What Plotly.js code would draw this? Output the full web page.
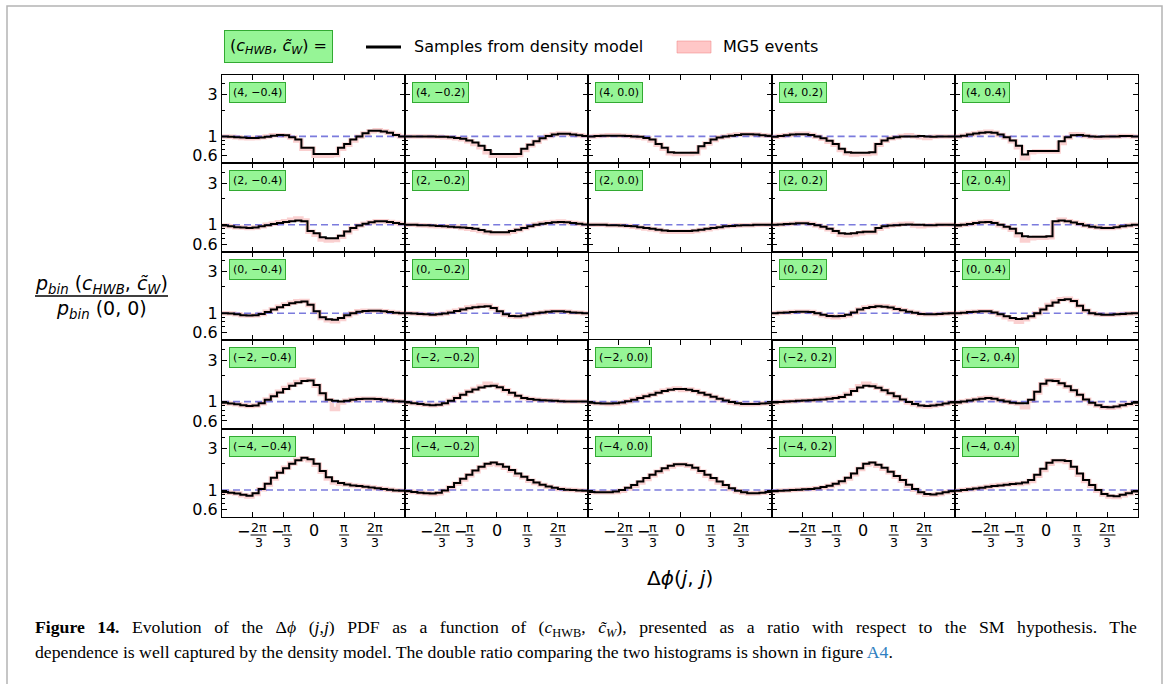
<!DOCTYPE html>
<html><head><meta charset="utf-8">
<script src="https://cdn.plot.ly/plotly-3.0.1.min.js"></script>
<style>body{margin:0;background:#fff}#chart{width:1170px;height:684px}</style>
</head><body><div id="chart"></div>
<script>
// ---- parameter labels ----
const cHWBvals = ['4', '2', '0', '−2', '−4'];          // rows, top to bottom
const cWvals = ['−0.4', '−0.2', '0.0', '0.2', '0.4'];   // columns, left to right

// ---- x tick labels ----
const xTickVals = [-2*Math.PI/3, -Math.PI/3, 0, Math.PI/3, 2*Math.PI/3];
const xTickNum = ['2π', 'π', '0', 'π', '2π'];
const xTickSign = ['−', '−', '', '', ''];
const yTickVals = [0.6, 1, 3];
const yTickText = ['0.6', '1', '3'];
const yMinorVals = [0.5, 0.7, 0.8, 0.9, 2, 4, 5];

// ---- ratio values, 30 bins over [-pi, pi] ----
// c_HWB = 4
const model_4_n04 = [1.0,0.99,0.98,0.97,0.96,0.96,0.97,0.99,1.02,1.04,1.03,0.98,0.92,0.74,0.74,0.63,0.63,0.63,0.63,0.74,0.82,0.92,1.0,1.09,1.16,1.16,1.14,1.1,1.04,1.0];
const mg5_4_n04   = [1.0,0.99,0.98,0.96,0.95,0.96,0.98,1.0,1.03,1.03,1.02,0.97,0.9,0.72,0.72,0.6,0.6,0.6,0.61,0.72,0.8,0.9,0.99,1.08,1.15,1.18,1.15,1.1,1.04,1.0];
const model_4_n02 = [1.0,1.0,1.0,1.0,1.0,0.99,0.99,0.98,0.96,0.94,0.9,0.85,0.78,0.7,0.63,0.63,0.63,0.63,0.63,0.72,0.8,0.88,0.95,1.01,1.05,1.07,1.07,1.05,1.03,1.01];
const mg5_4_n02   = [1.0,1.0,1.0,1.0,0.99,0.99,0.98,0.97,0.95,0.93,0.88,0.82,0.75,0.66,0.6,0.6,0.6,0.6,0.61,0.7,0.79,0.87,0.95,1.01,1.06,1.08,1.07,1.05,1.03,1.01];
const model_4_000 = [1.0,1.01,1.02,1.02,1.02,1.02,1.01,1.0,0.99,0.96,0.92,0.82,0.74,0.66,0.65,0.65,0.65,0.65,0.77,0.84,0.92,0.97,1.0,1.02,1.04,1.06,1.06,1.05,1.03,1.02];
const mg5_4_000   = [1.0,1.01,1.02,1.03,1.03,1.02,1.01,1.0,0.98,0.95,0.9,0.8,0.72,0.64,0.63,0.63,0.63,0.64,0.75,0.83,0.91,0.97,1.0,1.03,1.05,1.06,1.06,1.05,1.03,1.02];
const model_4_p02 = [0.99,1.01,1.03,1.05,1.06,1.06,1.04,1.0,0.95,0.89,0.82,0.72,0.66,0.65,0.65,0.65,0.66,0.82,0.9,0.95,0.98,1.0,1.0,1.0,1.01,1.0,0.99,1.0,1.0,1.0];
const mg5_4_p02   = [0.99,1.01,1.03,1.05,1.07,1.07,1.04,0.99,0.94,0.87,0.8,0.7,0.64,0.62,0.63,0.63,0.64,0.8,0.89,0.95,0.98,1.01,1.03,1.0,0.98,0.96,0.99,1.0,1.0,1.0];
const model_4_p04 = [1.0,1.02,1.05,1.08,1.1,1.12,1.1,1.05,0.98,0.9,0.78,0.62,0.68,0.68,0.68,0.68,0.68,0.88,0.98,1.03,1.04,1.02,1.0,0.99,1.0,1.0,1.0,1.01,1.01,1.0];
const mg5_4_p04   = [1.0,1.02,1.05,1.08,1.11,1.13,1.1,1.04,0.97,0.88,0.75,0.56,0.66,0.67,0.67,0.67,0.67,0.84,0.97,1.06,1.05,1.01,0.99,0.97,0.98,1.0,1.0,1.01,1.01,1.0];
// c_HWB = 2
const model_2_n04 = [0.98,0.96,0.94,0.93,0.92,0.93,0.96,0.99,1.02,1.05,1.08,1.1,1.12,1.1,0.85,0.8,0.72,0.7,0.7,0.75,0.84,0.92,0.98,1.03,1.07,1.1,1.1,1.08,1.05,1.02];
const mg5_2_n04   = [0.98,0.96,0.94,0.93,0.92,0.93,0.96,1.0,1.03,1.07,1.1,1.14,1.18,1.12,0.83,0.77,0.68,0.66,0.67,0.73,0.82,0.91,0.98,1.03,1.07,1.1,1.1,1.08,1.05,1.02];
const model_2_n02 = [1.0,1.0,0.99,0.99,0.98,0.97,0.96,0.95,0.94,0.93,0.92,0.9,0.87,0.84,0.82,0.82,0.82,0.85,0.88,0.92,0.96,1.0,1.03,1.05,1.07,1.08,1.07,1.05,1.03,1.01];
const mg5_2_n02   = [1.0,1.0,0.99,0.98,0.97,0.96,0.96,0.95,0.95,0.92,0.9,0.88,0.85,0.82,0.8,0.8,0.8,0.83,0.87,0.92,0.97,1.01,1.04,1.06,1.08,1.09,1.07,1.05,1.03,1.01];
const model_2_000 = [1.0,1.0,1.0,0.99,0.99,0.98,0.97,0.96,0.94,0.92,0.9,0.88,0.86,0.85,0.85,0.85,0.85,0.86,0.88,0.9,0.92,0.94,0.96,0.97,0.98,0.99,0.99,1.0,1.0,1.0];
const mg5_2_000   = [1.0,1.0,1.0,0.99,0.99,0.98,0.97,0.95,0.93,0.91,0.89,0.87,0.84,0.83,0.83,0.83,0.83,0.85,0.87,0.89,0.92,0.94,0.96,0.97,0.98,0.99,0.99,1.0,1.0,1.0];
const model_2_p02 = [1.0,1.01,1.02,1.03,1.04,1.04,1.02,0.99,0.95,0.9,0.85,0.8,0.79,0.8,0.82,0.83,0.83,0.92,0.96,0.98,0.99,1.0,1.01,1.0,1.0,0.99,0.99,1.0,1.0,1.0];
const mg5_2_p02   = [1.0,1.01,1.02,1.03,1.05,1.05,1.02,0.98,0.94,0.89,0.83,0.77,0.76,0.78,0.8,0.82,0.82,0.9,0.95,0.98,1.0,1.02,1.03,0.98,0.96,0.98,0.99,1.0,1.0,1.0];
const model_2_p04 = [0.98,1.0,1.02,1.05,1.07,1.08,1.05,1.0,0.95,0.9,0.8,0.74,0.73,0.73,0.73,0.74,1.1,1.12,1.1,1.06,1.02,0.98,0.95,0.93,0.92,0.92,0.94,0.96,0.98,1.0];
const mg5_2_p04   = [0.98,1.0,1.02,1.05,1.08,1.09,1.05,0.99,0.94,0.88,0.76,0.66,0.7,0.71,0.71,0.72,1.06,1.14,1.1,1.06,1.02,0.98,0.95,0.93,0.92,0.92,0.94,0.96,0.98,1.0];
// c_HWB = 0
const model_0_n04 = [1.0,0.99,0.97,0.95,0.94,0.95,0.98,1.03,1.1,1.17,1.24,1.3,1.34,1.36,1.25,1.05,0.9,0.85,0.84,0.88,0.95,1.0,1.04,1.06,1.07,1.07,1.05,1.03,1.01,1.0];
const mg5_0_n04   = [1.0,0.99,0.97,0.95,0.94,0.95,0.98,1.04,1.11,1.19,1.26,1.32,1.37,1.38,1.24,1.03,0.88,0.83,0.81,0.86,0.94,1.0,1.05,1.07,1.07,1.07,1.05,1.03,1.01,1.0];
const model_0_n02 = [1.0,0.99,0.98,0.97,0.96,0.97,0.99,1.02,1.06,1.1,1.14,1.17,1.19,1.2,1.15,1.05,0.97,0.93,0.92,0.94,0.97,1.0,1.02,1.04,1.05,1.05,1.04,1.02,1.01,1.0];
const mg5_0_n02   = [1.0,0.99,0.98,0.97,0.96,0.97,0.99,1.03,1.07,1.11,1.16,1.19,1.23,1.22,1.14,1.04,0.96,0.92,0.91,0.93,0.97,1.0,1.02,1.04,1.05,1.05,1.04,1.02,1.01,1.0];
const model_0_p02 = [1.0,1.01,1.02,1.03,1.04,1.04,1.03,1.0,0.96,0.93,0.92,0.93,0.96,1.02,1.1,1.15,1.18,1.2,1.19,1.16,1.12,1.08,1.04,1.01,0.98,0.97,0.97,0.98,0.99,1.0];
const mg5_0_p02   = [1.0,1.01,1.02,1.03,1.04,1.04,1.03,0.99,0.95,0.92,0.9,0.92,0.95,1.02,1.1,1.16,1.19,1.21,1.2,1.17,1.12,1.08,1.04,1.01,0.98,0.97,0.97,0.98,0.99,1.0];
const model_0_p04 = [1.0,1.01,1.03,1.04,1.05,1.05,1.02,0.97,0.92,0.88,0.86,0.87,0.92,1.0,1.1,1.22,1.33,1.42,1.45,1.38,1.22,1.08,1.0,0.97,0.96,0.96,0.97,0.98,0.99,1.0];
const mg5_0_p04   = [1.0,1.01,1.03,1.04,1.05,1.05,1.01,0.96,0.9,0.85,0.8,0.85,0.91,1.0,1.11,1.24,1.35,1.45,1.47,1.38,1.21,1.07,1.0,0.97,0.96,0.96,0.97,0.98,0.99,1.0];
// c_HWB = -2
const model_n2_n04 = [0.97,0.95,0.93,0.91,0.89,0.9,0.96,1.05,1.15,1.27,1.4,1.52,1.63,1.72,1.75,1.55,1.25,1.05,1.02,1.0,1.02,1.05,1.07,1.08,1.08,1.07,1.05,1.03,1.01,1.0];
const mg5_n2_n04   = [0.97,0.95,0.93,0.91,0.89,0.9,0.96,1.06,1.17,1.3,1.43,1.56,1.68,1.78,1.76,1.52,1.22,1.04,0.82,0.98,1.02,1.05,1.07,1.08,1.08,1.07,1.05,1.03,1.01,1.0];
const model_n2_n02 = [0.98,0.96,0.94,0.92,0.91,0.92,0.96,1.02,1.1,1.2,1.3,1.38,1.45,1.5,1.52,1.46,1.36,1.26,1.17,1.1,1.07,1.05,1.04,1.03,1.02,1.01,1.0,1.0,1.0,1.0];
const mg5_n2_n02   = [0.98,0.96,0.94,0.92,0.91,0.92,0.96,1.02,1.11,1.21,1.31,1.4,1.48,1.6,1.55,1.46,1.35,1.24,1.16,1.1,1.07,1.05,1.04,1.03,1.02,1.01,1.0,1.0,1.0,1.0];
const model_n2_000 = [0.97,0.96,0.95,0.95,0.96,0.98,1.01,1.05,1.1,1.15,1.2,1.26,1.32,1.37,1.4,1.4,1.37,1.32,1.26,1.2,1.14,1.08,1.03,0.99,0.96,0.94,0.94,0.94,0.95,0.96];
const mg5_n2_000   = [0.97,0.96,0.95,0.94,0.95,0.97,1.01,1.06,1.11,1.16,1.21,1.27,1.33,1.38,1.41,1.36,1.38,1.32,1.25,1.19,1.13,1.07,1.02,0.98,0.95,0.93,0.93,0.94,0.95,0.96];
const model_n2_p02 = [0.98,0.99,1.0,1.01,1.02,1.03,1.04,1.05,1.06,1.08,1.1,1.13,1.2,1.32,1.45,1.52,1.5,1.44,1.35,1.25,1.15,1.06,0.99,0.94,0.9,0.89,0.9,0.92,0.95,0.98];
const mg5_n2_p02   = [0.98,0.99,1.0,1.01,1.02,1.03,1.04,1.05,1.07,1.09,1.11,1.14,1.22,1.35,1.5,1.6,1.53,1.44,1.34,1.24,1.14,1.05,0.98,0.93,0.89,0.88,0.9,0.92,0.95,0.98];
const model_n2_p04 = [0.98,1.0,1.03,1.06,1.08,1.1,1.08,1.04,1.0,0.97,0.96,0.96,1.05,1.3,1.6,1.75,1.72,1.62,1.5,1.35,1.2,1.06,0.97,0.91,0.87,0.86,0.88,0.91,0.94,0.97];
const mg5_n2_p04   = [0.98,1.0,1.03,1.06,1.09,1.11,1.08,1.04,1.0,0.97,0.95,0.86,1.02,1.27,1.58,1.76,1.75,1.6,1.48,1.33,1.19,1.05,0.96,0.9,0.86,0.85,0.87,0.91,0.94,0.97];
// c_HWB = -4
const model_n4_n04 = [0.95,0.93,0.91,0.88,0.86,0.92,1.03,1.18,1.38,1.58,1.78,2.0,2.2,2.35,2.25,2.0,1.65,1.4,1.26,1.2,1.16,1.13,1.11,1.09,1.07,1.05,1.03,1.01,0.99,0.98];
const mg5_n4_n04   = [0.95,0.93,0.91,0.87,0.84,0.9,1.02,1.16,1.36,1.6,1.8,2.02,2.22,2.3,2.2,1.95,1.62,1.36,1.22,1.18,1.16,1.13,1.11,1.09,1.07,1.05,1.03,1.01,0.99,0.98];
const model_n4_n02 = [0.97,0.95,0.93,0.92,0.91,0.93,0.99,1.08,1.2,1.35,1.5,1.68,1.85,2.0,2.07,1.98,1.85,1.7,1.55,1.42,1.3,1.22,1.15,1.1,1.06,1.03,1.01,1.0,0.99,0.98];
const mg5_n4_n02   = [0.97,0.95,0.93,0.92,0.9,0.92,0.98,1.07,1.18,1.32,1.48,1.64,1.82,1.96,2.02,1.94,1.8,1.66,1.5,1.4,1.28,1.2,1.14,1.09,1.05,1.03,1.01,1.0,0.99,0.98];
const model_n4_000 = [0.95,0.94,0.94,0.94,0.96,1.0,1.06,1.14,1.25,1.37,1.5,1.64,1.78,1.9,1.97,1.98,1.92,1.8,1.65,1.5,1.37,1.25,1.14,1.05,0.98,0.94,0.92,0.92,0.93,0.95];
const mg5_n4_000   = [0.95,0.94,0.94,0.94,0.95,0.98,1.04,1.12,1.22,1.34,1.48,1.62,1.74,1.86,1.95,1.96,1.9,1.78,1.62,1.46,1.34,1.22,1.12,1.03,0.97,0.93,0.91,0.92,0.93,0.95];
const model_n4_p02 = [0.97,0.98,0.99,1.0,1.01,1.02,1.03,1.05,1.08,1.12,1.18,1.26,1.38,1.55,1.78,2.0,2.07,1.95,1.8,1.62,1.45,1.3,1.15,1.03,0.94,0.9,0.89,0.91,0.94,0.97];
const mg5_n4_p02   = [0.97,0.98,0.99,1.0,1.01,1.02,1.03,1.05,1.07,1.11,1.17,1.24,1.36,1.52,1.74,1.96,2.02,1.9,1.76,1.6,1.42,1.28,1.12,1.01,0.93,0.88,0.88,0.9,0.94,0.97];
const model_n4_p04 = [0.98,1.0,1.02,1.04,1.06,1.09,1.11,1.13,1.15,1.17,1.19,1.22,1.3,1.5,1.75,2.05,2.2,2.2,2.15,1.85,1.55,1.3,1.14,1.0,0.9,0.86,0.85,0.88,0.92,0.96];
const mg5_n4_p04   = [0.98,1.0,1.02,1.04,1.06,1.09,1.12,1.14,1.16,1.18,1.17,1.2,1.27,1.46,1.7,2.0,2.15,2.15,2.1,1.8,1.5,1.27,1.12,0.98,0.89,0.84,0.83,0.87,0.92,0.96];

const modelGrid = [
  [model_4_n04, model_4_n02, model_4_000, model_4_p02, model_4_p04],
  [model_2_n04, model_2_n02, model_2_000, model_2_p02, model_2_p04],
  [model_0_n04, model_0_n02, null, model_0_p02, model_0_p04],
  [model_n2_n04, model_n2_n02, model_n2_000, model_n2_p02, model_n2_p04],
  [model_n4_n04, model_n4_n02, model_n4_000, model_n4_p02, model_n4_p04]
];
const mg5Grid = [
  [mg5_4_n04, mg5_4_n02, mg5_4_000, mg5_4_p02, mg5_4_p04],
  [mg5_2_n04, mg5_2_n02, mg5_2_000, mg5_2_p02, mg5_2_p04],
  [mg5_0_n04, mg5_0_n02, null, mg5_0_p02, mg5_0_p04],
  [mg5_n2_n04, mg5_n2_n02, mg5_n2_000, mg5_n2_p02, mg5_n2_p04],
  [mg5_n4_n04, mg5_n4_n02, mg5_n4_000, mg5_n4_p02, mg5_n4_p04]
];

// ---- build ----
const W = 1170, H = 684;
const px = x => x / W, py = y => 1 - y / H;
const nBins = 30;
const edges = [];
for (let i = 0; i <= nBins; i++) edges.push(-Math.PI + 2 * Math.PI * i / nBins);
const stepY = v => v.concat([v[v.length - 1]]);

const FONT = 'DejaVu Sans, sans-serif';
const gridL = 222, gridR = 1138, gridT = 75, gridB = 517;
const cw = (gridR - gridL) / 5, rh = (gridB - gridT) / 5;
const yRange = [Math.log10(0.49), Math.log10(5.07)];

const traces = [];
const layout = {
  width: W, height: H, margin: {l: 0, r: 0, t: 0, b: 0},
  paper_bgcolor: '#fff', plot_bgcolor: '#fff', showlegend: false,
  font: {family: FONT, color: '#000'},
  annotations: [], shapes: []
};

let n = 0;
for (let r = 0; r < 5; r++) {
  for (let c = 0; c < 5; c++) {
    if (!modelGrid[r][c]) continue;
    n++;
    const xs = n === 1 ? '' : String(n);
    const xa = 'x' + xs, ya = 'y' + xs;
    const left = gridL + c * cw, top = gridT + r * rh;
    layout['xaxis' + xs] = {
      domain: [px(left), px(left + cw)], anchor: ya,
      range: [-Math.PI, Math.PI], tickvals: xTickVals, showticklabels: false,
      ticks: 'inside', ticklen: 5, tickwidth: 1, tickcolor: '#000',
      showline: true, linecolor: '#000', linewidth: 1, mirror: 'ticks',
      showgrid: false, zeroline: false
    };
    layout['yaxis' + xs] = {
      domain: [py(top + rh), py(top)], anchor: xa, type: 'log', range: yRange,
      tickvals: yTickVals, ticktext: yTickText, showticklabels: c === 0,
      tickfont: {size: 16, family: FONT, color: '#000'},
      ticks: 'inside', ticklen: 5, tickwidth: 1, tickcolor: '#000',
      minor: {tickvals: yMinorVals, ticks: 'inside', ticklen: 3, tickwidth: 1, tickcolor: '#000', showgrid: false},
      showline: true, linecolor: '#000', linewidth: 1, mirror: 'ticks',
      showgrid: false, zeroline: false
    };
    traces.push({x: edges, y: stepY(mg5Grid[r][c]), xaxis: xa, yaxis: ya, mode: 'lines',
      line: {shape: 'hv', color: 'rgba(240,110,110,0.32)', width: 4.5}, hoverinfo: 'skip'});
    traces.push({x: [-Math.PI, Math.PI], y: [1, 1], xaxis: xa, yaxis: ya, mode: 'lines',
      line: {color: 'rgba(100,100,215,0.85)', width: 1.6, dash: '7px,4px'}, hoverinfo: 'skip'});
    traces.push({x: edges, y: stepY(modelGrid[r][c]), xaxis: xa, yaxis: ya, mode: 'lines',
      line: {shape: 'hv', color: '#000', width: 2}, hoverinfo: 'skip'});

    layout.annotations.push({
      xref: 'paper', yref: 'paper', x: px(left + 7), y: py(top + 7), xanchor: 'left', yanchor: 'top',
      text: '(' + cHWBvals[r] + ', ' + cWvals[c] + ')', showarrow: false,
      font: {size: 11, family: FONT, color: '#000'},
      bgcolor: 'rgb(150,245,150)', bordercolor: 'rgb(50,170,50)', borderwidth: 1, borderpad: 3
    });

    if (r === 4) {
      for (let k = 0; k < xTickVals.length; k++) {
        const tv = xTickVals[k];
        if (xTickNum[k] === '0') {
          layout.annotations.push({xref: xa, yref: 'paper', x: tv, y: py(530), text: '0', xanchor: 'center',
            showarrow: false, yanchor: 'middle', font: {size: 16, family: FONT, color: '#000'}});
          continue;
        }
        const neg = xTickSign[k] !== '';
        const fshift = neg ? (xTickNum[k] === 'π' ? 4 : 6) : 0;
        const mshift = neg ? (xTickNum[k] === 'π' ? -6 : -9) : 0;
        const half = xTickNum[k] === 'π' ? 5 : 8;
        layout.annotations.push({xref: xa, yref: 'paper', x: tv, xshift: fshift, y: py(527), text: xTickNum[k], xanchor: 'center',
          showarrow: false, yanchor: 'middle', font: {size: 12.5, family: FONT, color: '#000'}});
        layout.annotations.push({xref: xa, yref: 'paper', x: tv, xshift: fshift, y: py(542), text: '3', xanchor: 'center',
          showarrow: false, yanchor: 'middle', font: {size: 12.5, family: FONT, color: '#000'}});
        layout.shapes.push({type: 'line', xref: xa, yref: 'paper', xsizemode: 'pixel', xanchor: tv,
          x0: fshift - half, x1: fshift + half, y0: py(535), y1: py(535), line: {color: '#000', width: 1}});
        if (neg) {
          layout.annotations.push({xref: xa, yref: 'paper', x: tv, xshift: mshift, y: py(531), text: '−', xanchor: 'center',
            showarrow: false, yanchor: 'middle', font: {size: 16, family: FONT, color: '#000'}});
        }
      }
    }
  }
}

// y-axis title as a fraction
layout.annotations.push({xref: 'paper', yref: 'paper', x: px(101), y: py(284), xanchor: 'center', showarrow: false, yanchor: 'middle',
  text: '<i>p<sub>bin</sub></i> (<i>c<sub>HWB</sub></i>, <i>c\u0303<sub>W</sub></i>)', font: {size: 19, family: FONT, color: '#000'}});
layout.annotations.push({xref: 'paper', yref: 'paper', x: px(101), y: py(309), xanchor: 'center', showarrow: false, yanchor: 'middle',
  text: '<i>p<sub>bin</sub></i> (0, 0)', font: {size: 19, family: FONT, color: '#000'}});
layout.shapes.push({type: 'line', xref: 'paper', yref: 'paper', x0: px(35), x1: px(168), y0: py(296), y1: py(296),
  line: {color: '#000', width: 1.5}});

// x-axis title
layout.annotations.push({xref: 'paper', yref: 'paper', x: px(680), y: py(578), xanchor: 'center', showarrow: false, yanchor: 'middle',
  text: 'Δ<i>ϕ</i>(<i>j</i>, <i>j</i>)', font: {size: 20, family: FONT, color: '#000'}});

// legend (drawn manually)
layout.annotations.push({xref: 'paper', yref: 'paper', x: px(224), y: py(47), xanchor: 'left', yanchor: 'middle', showarrow: false,
  text: '(<i>c<sub>HWB</sub></i>, <i>c\u0303<sub>W</sub></i>) =', font: {size: 16, family: FONT, color: '#000'},
  bgcolor: 'rgb(150,245,150)', bordercolor: 'rgb(50,170,50)', borderwidth: 1, borderpad: 5});
layout.shapes.push({type: 'line', xref: 'paper', yref: 'paper', x0: px(366), x1: px(401), y0: py(47), y1: py(47),
  line: {color: '#000', width: 3}});
layout.annotations.push({xref: 'paper', yref: 'paper', x: px(412), y: py(47), xanchor: 'left', yanchor: 'middle', showarrow: false,
  text: 'Samples from density model', font: {size: 16, family: FONT, color: '#000'}});
layout.shapes.push({type: 'rect', xref: 'paper', yref: 'paper', x0: px(677), x1: px(711), y0: py(53), y1: py(41),
  fillcolor: 'rgba(255,185,185,0.8)', line: {color: 'rgba(240,130,130,0.5)', width: 1}});
layout.annotations.push({xref: 'paper', yref: 'paper', x: px(721), y: py(47), xanchor: 'left', yanchor: 'middle', showarrow: false,
  text: 'MG5 events', font: {size: 16, family: FONT, color: '#000'}});

// caption (first line justified to full width in the reference)
const SERIF = 'Liberation Serif, serif';
layout.annotations.push({xref: 'paper', yref: 'paper', x: px(33), y: py(628), xanchor: 'left', yanchor: 'middle', showarrow: false,
  align: 'left', font: {size: 17.7, family: SERIF, color: '#000'},
  text: '<span style="word-spacing:8.1px"><b>Figure 14.</b> Evolution of the Δ<i>ϕ</i> (<i>j</i>,<i>j</i>) PDF as a function of (<i>c</i><sub>HWB</sub>, <i>c\u0303</i><sub><i>W</i></sub>), presented as a ratio with respect to the SM hypothesis. The</span>'});
layout.annotations.push({xref: 'paper', yref: 'paper', x: px(33), y: py(652), xanchor: 'left', yanchor: 'middle', showarrow: false,
  align: 'left', font: {size: 17.7, family: SERIF, color: '#000'},
  text: 'dependence is well captured by the density model. The double ratio comparing the two histograms is shown in figure <span style="color:#2f7fc1">A4</span>.'});

// page frame
layout.shapes.push({type: 'rect', xref: 'paper', yref: 'paper', x0: px(7), x1: px(1162), y0: py(6), y1: py(720),
  line: {color: '#b4b4b4', width: 1.5}, fillcolor: 'rgba(0,0,0,0)', layer: 'below'});

Plotly.newPlot('chart', traces, layout, {staticPlot: true, displayModeBar: false});
</script>
</body></html>
